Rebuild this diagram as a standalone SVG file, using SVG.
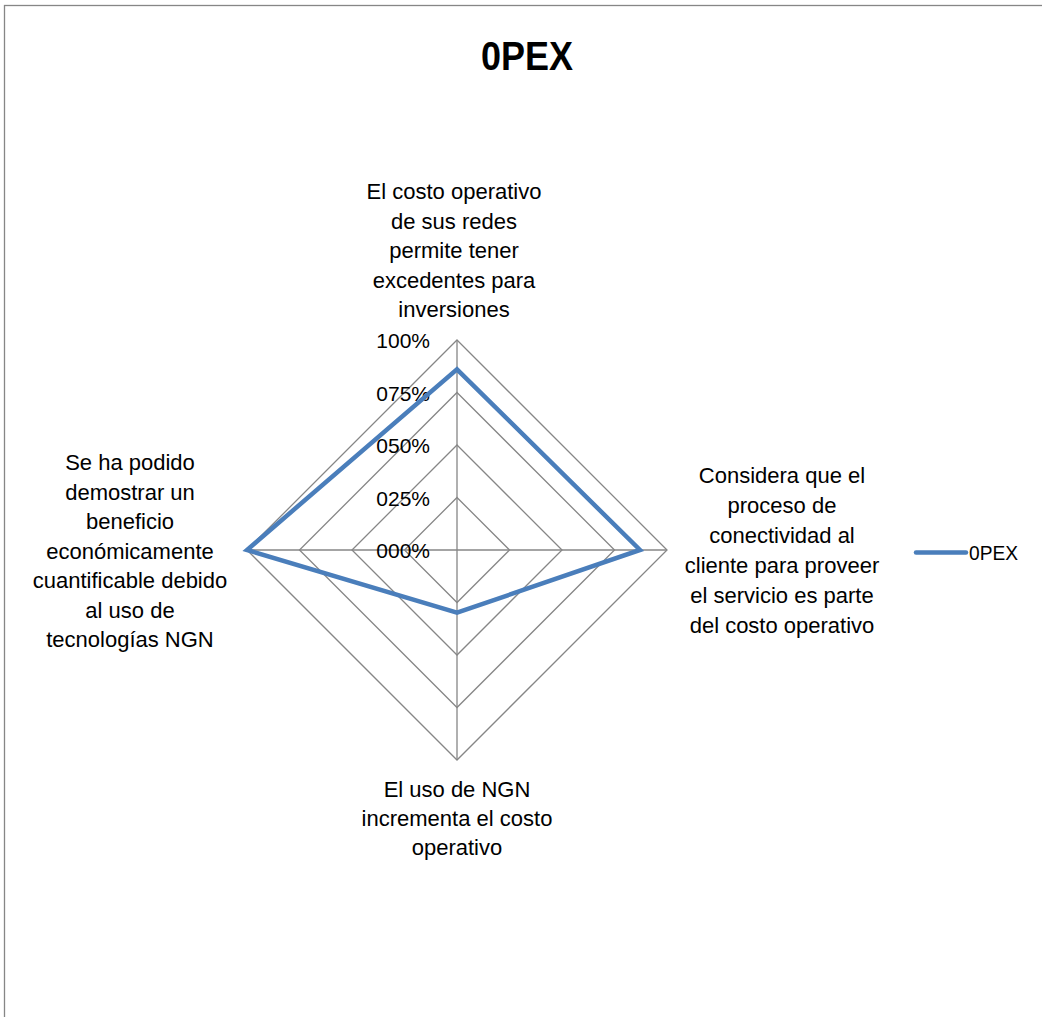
<svg xmlns="http://www.w3.org/2000/svg" width="1042" height="1017" viewBox="0 0 1042 1017">
  <style>
    .t { font-family: "Liberation Sans", Arial, sans-serif; font-size: 22px; fill: #000; text-anchor: middle; }
    .tick { font-family: "Liberation Sans", Arial, sans-serif; font-size: 21px; fill: #000; text-anchor: end; }
    .grid { fill: none; stroke: #868686; stroke-width: 1.3; }
    .series { fill: none; stroke: #4a7ebb; stroke-width: 4.5; stroke-linejoin: miter; }
  </style>
  <rect x="0" y="0" width="1042" height="1017" fill="#ffffff"/>
  <rect x="4.5" y="5.5" width="1100" height="1100" fill="#ffffff" stroke="#868686" stroke-width="1.3"/>
  <g id="title">
    <text x="527" y="70" font-family="Liberation Sans, Arial, sans-serif" font-size="40" font-weight="bold" text-anchor="middle" textLength="92" lengthAdjust="spacingAndGlyphs">0PEX</text>
  </g>
  <g id="grid">
    <polygon class="grid" points="457,340 667,550 457,760 247,550"/>
    <polygon class="grid" points="457,392.5 614.5,550 457,707.5 299.5,550"/>
    <polygon class="grid" points="457,445 562,550 457,655 352,550"/>
    <polygon class="grid" points="457,497.5 509.5,550 457,602.5 404.5,550"/>
    <line class="grid" x1="457" y1="340" x2="457" y2="760"/>
    <line class="grid" x1="247" y1="550" x2="667" y2="550"/>
  </g>
  <g id="ticks">
    <text class="tick" x="430" y="348">100%</text>
    <text class="tick" x="430" y="400.5">075%</text>
    <text class="tick" x="430" y="453">050%</text>
    <text class="tick" x="430" y="505.5">025%</text>
    <text class="tick" x="430" y="558">000%</text>
  </g>
  <g id="label-top">
    <text class="t" x="454" y="199">El costo operativo</text>
    <text class="t" x="454" y="228.5">de sus redes</text>
    <text class="t" x="454" y="258">permite tener</text>
    <text class="t" x="454" y="287.5">excedentes para</text>
    <text class="t" x="454" y="317">inversiones</text>
  </g>
  <g id="label-right">
    <text class="t" x="782" y="483">Considera que el</text>
    <text class="t" x="782" y="513">proceso de</text>
    <text class="t" x="782" y="543">conectividad al</text>
    <text class="t" x="782" y="573">cliente para proveer</text>
    <text class="t" x="782" y="603">el servicio es parte</text>
    <text class="t" x="782" y="633">del costo operativo</text>
  </g>
  <g id="label-bottom">
    <text class="t" x="457" y="797">El uso de NGN</text>
    <text class="t" x="457" y="826">incrementa el costo</text>
    <text class="t" x="457" y="855">operativo</text>
  </g>
  <g id="label-left">
    <text class="t" x="130" y="470">Se ha podido</text>
    <text class="t" x="130" y="499.5">demostrar un</text>
    <text class="t" x="130" y="529">beneficio</text>
    <text class="t" x="130" y="558.5">económicamente</text>
    <text class="t" x="130" y="588">cuantificable debido</text>
    <text class="t" x="130" y="617.5">al uso de</text>
    <text class="t" x="130" y="647">tecnologías NGN</text>
  </g>
  <g id="connectors">
    <polygon class="series" points="457,369.3 640,550 457,612.7 247,550"/>
  </g>
  <g id="legend">
    <line x1="916" y1="552.5" x2="966" y2="552.5" stroke="#4a7ebb" stroke-width="4.5" stroke-linecap="round"/>
    <text x="969" y="560" font-family="Liberation Sans, Arial, sans-serif" font-size="20" textLength="49" lengthAdjust="spacingAndGlyphs">0PEX</text>
  </g>
</svg>
